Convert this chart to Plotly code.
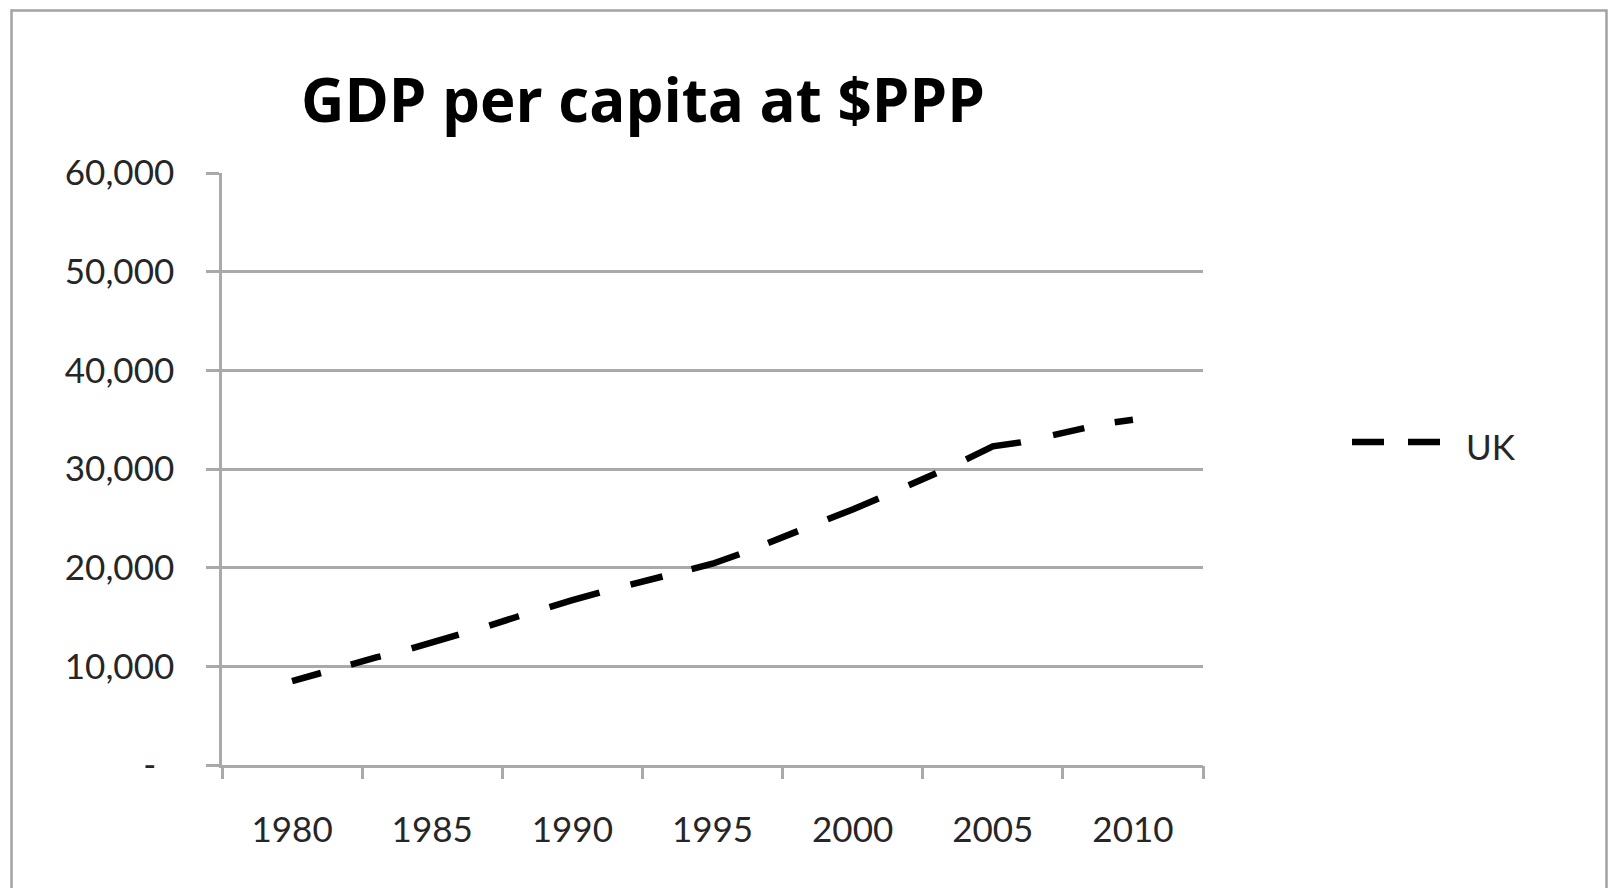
import plotly.graph_objects as go

# UK GDP per capita at purchasing power parity, current international $
years = list(range(1980, 2011))
uk_gdp = [8500, 9300, 10200, 10900, 11600, 12400, 13200, 14100, 15000, 15900,
          16700, 17500, 18200, 18900, 19700, 20400, 21400, 22500, 23600, 24700,
          25900, 27100, 28300, 29600, 30900, 32300, 32700, 33300, 33900, 34600,
          35000]

year_labels = [1980, 1985, 1990, 1995, 2000, 2005, 2010]
y_ticks = [0, 10000, 20000, 30000, 40000, 50000, 60000]
y_tick_text = ["-\u00a0\u00a0"] + [f"{v:,}" for v in y_ticks[1:]]

W, H = 1608, 888
L, R, T, B = 222, 1203, 173, 765   # plot area edges in pixels
GRID = "#a9a9a9"
TEXT = "#262626"
FONT = "Lato"


def px_x(p):
    return (p - L) / (R - L)


def px_y(p):
    return (B - p) / (B - T)


fig = go.Figure()

fig.add_trace(go.Scatter(
    x=years, y=uk_gdp, mode="lines", name="UK", showlegend=False,
    line=dict(color="black", width=6.5,
              dash="30px,31px,31px,32px,49px,32px,31px,32px,52px,32px,33px,30px,"
                   "50px,31px,32px,32px,55px,33px,30px,33px,58px,33px,32px,31px,40px,200px"),
    hoverinfo="x+y",
))

# invisible companion trace so the tick-mark axis is drawn
fig.add_trace(go.Scatter(x=[years[0]], y=[uk_gdp[0]], xaxis="x2", mode="markers",
                         marker=dict(opacity=0), showlegend=False, hoverinfo="skip"))

fig.update_layout(
    width=W, height=H,
    margin=dict(l=L, r=W - R, t=T, b=H - B),
    paper_bgcolor="white", plot_bgcolor="white",
    font=dict(family=FONT, color=TEXT, size=35),
    xaxis=dict(
        range=[1977.5, 2012.5], tickvals=year_labels, ticktext=[str(y) for y in year_labels],
        ticks="", showgrid=False, zeroline=False,
        showline=True, linecolor=GRID, linewidth=2.5,
        tickfont=dict(family=FONT, size=35, color=TEXT),
        ticklabelstandoff=32,
    ),
    xaxis2=dict(
        range=[1977.5, 2012.5], overlaying="x", anchor="y", side="bottom",
        tickvals=[1977.5 + 5 * i for i in range(8)], showticklabels=False,
        ticks="outside", ticklen=13, tickwidth=2.5, tickcolor=GRID,
        showgrid=False, zeroline=False, showline=False,
    ),
    yaxis=dict(
        range=[0, 60000], tickvals=y_ticks, ticktext=y_tick_text,
        showgrid=True, gridcolor=GRID, gridwidth=2.5, zeroline=False,
        showline=True, linecolor=GRID, linewidth=2.5,
        ticks="outside", ticklen=13, tickwidth=2.5, tickcolor=GRID,
        tickfont=dict(family=FONT, size=35, color=TEXT),
        ticklabelstandoff=25,
    ),
    hovermode="closest",
)

# chart title
fig.add_annotation(
    text="<b>GDP per capita at $PPP</b>", xref="paper", yref="paper",
    x=px_x(643), y=px_y(99), xanchor="center", yanchor="middle",
    showarrow=False, font=dict(family="Open Sans", size=60, color="black"),
)

# legend entry
fig.add_shape(type="line", xref="paper", yref="paper",
              x0=px_x(1352), x1=px_x(1440), y0=px_y(442), y1=px_y(442),
              line=dict(color="black", width=6.5, dash="32px,24px"))
fig.add_annotation(
    text="UK", xref="paper", yref="paper", x=px_x(1464), y=px_y(446),
    xanchor="left", yanchor="middle", showarrow=False,
    font=dict(family=FONT, size=35, color=TEXT),
)

# chart area frame
fig.add_shape(type="rect", xref="paper", yref="paper", layer="below",
              x0=px_x(11.5), x1=px_x(1606.5), y0=px_y(900), y1=px_y(10.5),
              line=dict(color="#a3a3a3", width=2.5), fillcolor="rgba(0,0,0,0)")

fig.write_html("out.html")
